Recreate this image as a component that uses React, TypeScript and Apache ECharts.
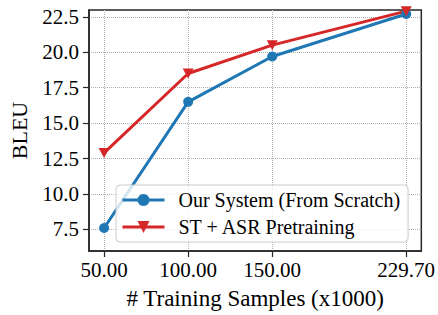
import React, { useEffect, useRef } from "react";
import * as echarts from "echarts";

const samples = [50, 100, 150, 229.7];
const scratchBleu = [7.6, 16.5, 19.7, 22.7];
const pretrainBleu = [12.9, 18.5, 20.5, 22.9];
const yTicks = [7.5, 10, 12.5, 15, 17.5, 20, 22.5];
const seriesNames = ["Our System (From Scratch)", "ST + ASR Pretraining"];

const FONT = "'Liberation Serif', 'Times New Roman', serif";
const FRAME = "#262626";

export default function App() {
  const ref = useRef<HTMLDivElement>(null);
  useEffect(() => {
    if (!ref.current) return;
    const chart = echarts.init(ref.current, null, { renderer: "svg" });
    const xMin = 50 - 0.05 * (229.7 - 50);
    const xMax = 229.7 + 0.05 * (229.7 - 50);
    chart.setOption({
      animation: false,
      textStyle: { fontFamily: FONT },
      grid: {
        left: 87,
        right: 16,
        top: 10,
        bottom: 59,
        show: true,
        borderColor: FRAME,
        borderWidth: 1.5,
        backgroundColor: "transparent",
      },
      legend: {
        left: 116,
        top: 185,
        orient: "vertical",
        padding: [5, 8, 5, 5],
        itemGap: 7,
        itemWidth: 42,
        itemHeight: 15,
        backgroundColor: "rgba(255,255,255,0.8)",
        borderColor: "#cccccc",
        borderWidth: 1,
        borderRadius: 4,
        lineStyle: { width: 3 },
        textStyle: {
          fontFamily: FONT,
          fontSize: 20,
          color: "#000",
          padding: [0, 0, 0, 9],
        },
        data: seriesNames,
      },
      xAxis: {
        type: "value",
        min: xMin,
        max: xMax,
        name: "# Training Samples (x1000)",
        nameLocation: "middle",
        nameGap: 36,
        nameTextStyle: { fontFamily: FONT, fontSize: 23, color: "#000" },
        axisLine: { show: true, lineStyle: { color: FRAME, width: 1.5 } },
        axisTick: {
          show: true,
          length: 6,
          customValues: samples,
          lineStyle: { color: FRAME, width: 1.2 },
        },
        axisLabel: {
          customValues: samples,
          formatter: (v: number) => v.toFixed(2),
          fontFamily: FONT,
          fontSize: 21,
          color: "#000",
          margin: 8,
        },
        splitLine: {
          show: true,
          lineStyle: { color: "#b0b0b0", type: "dotted", width: 1 },
        },
      },
      yAxis: {
        type: "value",
        min: 5.98,
        max: 22.98,
        name: "BLEU",
        nameLocation: "middle",
        nameRotate: 90,
        nameGap: 59,
        nameTextStyle: { fontFamily: FONT, fontSize: 22, color: "#000" },
        axisLine: { show: true, lineStyle: { color: FRAME, width: 1.5 } },
        axisTick: {
          show: true,
          length: 6,
          customValues: yTicks,
          lineStyle: { color: FRAME, width: 1.2 },
        },
        axisLabel: {
          customValues: yTicks,
          formatter: (v: number) => v.toFixed(1),
          fontFamily: FONT,
          fontSize: 21,
          color: "#000",
          margin: 10,
        },
        splitLine: {
          show: true,
          lineStyle: { color: "#b0b0b0", type: "dotted", width: 1 },
        },
      },
      series: [
        {
          name: seriesNames[0],
          type: "line",
          data: samples.map((x, i) => [x, scratchBleu[i]]),
          symbol: "circle",
          symbolSize: 10,
          color: "#1f77b4",
          lineStyle: { width: 3, color: "#1f77b4" },
          itemStyle: { color: "#1f77b4" },
          clip: false,
        },
        {
          name: seriesNames[1],
          type: "line",
          data: samples.map((x, i) => [x, pretrainBleu[i]]),
          symbol: "triangle",
          symbolRotate: 180,
          symbolSize: [11, 10],
          color: "#d62728",
          lineStyle: { width: 3, color: "#d62728" },
          itemStyle: { color: "#d62728" },
          clip: false,
        },
      ],
    });
    return () => chart.dispose();
  }, []);
  return (
    <div
      ref={ref}
      style={{ width: 438, height: 315, position: "absolute", left: 0, top: 0 }}
    />
  );
}
